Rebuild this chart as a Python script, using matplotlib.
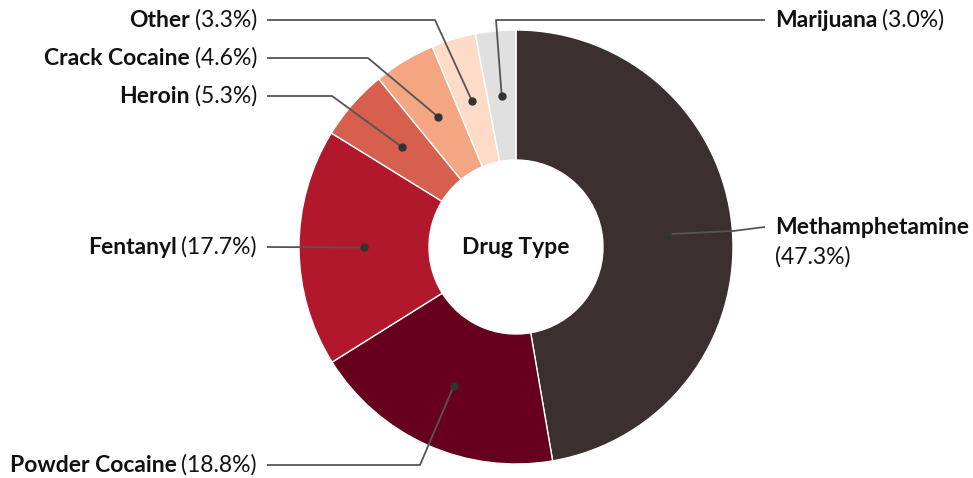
import numpy as np
import matplotlib
matplotlib.use("Agg")
import matplotlib.pyplot as plt

categories = ["Methamphetamine", "Powder Cocaine", "Fentanyl", "Heroin",
              "Crack Cocaine", "Other", "Marijuana"]
shares = [47.3, 18.8, 17.7, 5.3, 4.6, 3.3, 3.0]
colors = ["#3c2f2f", "#67001f", "#b2182b", "#d6604d", "#f4a582", "#fddbc7", "#e0e0e0"]
center_title = "Drug Type"

W, H = 973, 478
CX, CY = 516, 247          # image coords
R_OUT, R_IN = 217, 87
FS = 16.5
FONT = ["Lato", "DejaVu Sans"]

fig = plt.figure(figsize=(W / 100, H / 100), dpi=100)
ax = fig.add_axes([0, 0, 1, 1])

def Y(y):
    return H - y

wedges, _ = ax.pie(shares, colors=colors, startangle=90, counterclock=False,
                   center=(CX, Y(CY)), radius=R_OUT,
                   wedgeprops=dict(width=R_OUT - R_IN, edgecolor="white", linewidth=1))
ax.set_xlim(0, W)
ax.set_ylim(0, H)
ax.set_aspect("equal")
ax.axis("off")

ax.text(CX, Y(CY), center_title, ha="center", va="center", fontsize=FS,
        fontweight="bold", family=FONT, color="#111111")

# label layout: (side, label y, elbow points)
layout = {
    "Methamphetamine": ("right", 228, [(733, 231)]),
    "Powder Cocaine": ("left", 465, [(420, 465)]),
    "Fentanyl": ("left", 247, []),
    "Heroin": ("left", 96, [(332, 96)]),
    "Crack Cocaine": ("left", 58, [(368, 58)]),
    "Other": ("left", 20, [(435, 20)]),
    "Marijuana": ("right", 20, [(496, 20)]),
}

r_mid = (R_OUT + R_IN) / 2
fig.canvas.draw()
renderer = fig.canvas.get_renderer()

for w, name, val in zip(wedges, categories, shares):
    ang = np.deg2rad((w.theta1 + w.theta2) / 2)
    dx, dy = CX + r_mid * np.cos(ang), Y(CY) + r_mid * np.sin(ang)
    side, ly, elbows = layout[name]
    if side == "left":
        end = (267, Y(ly))
    elif name == "Methamphetamine":
        end = (765, Y(227))
    else:
        end = (765, Y(ly))
    pts = [(dx, dy)] + [(ex, Y(ey)) for ex, ey in elbows] + [end]
    xs, ys = zip(*pts)
    ax.plot(xs, ys, color="#555555", lw=1.3, solid_capstyle="butt", zorder=3)
    ax.plot([dx], [dy], "o", color="#333333", ms=5, zorder=4)

    pct = f"({val:.1f}%)"
    if side == "left":
        t2 = ax.text(257, Y(ly), pct, ha="right", va="center", fontsize=FS,
                     family=FONT, color="#111111")
        bb = t2.get_window_extent(renderer)
        ax.text(bb.x0 - 5, Y(ly), name, ha="right", va="center", fontsize=FS,
                fontweight="bold", family=FONT, color="#111111")
    else:
        if name == "Methamphetamine":
            ax.text(775, Y(227), name, ha="left", va="center", fontsize=FS,
                    fontweight="bold", family=FONT, color="#111111")
            ax.text(775, Y(257), pct, ha="left", va="center", fontsize=FS,
                    family=FONT, color="#111111")
        else:
            t1 = ax.text(775, Y(ly), name, ha="left", va="center", fontsize=FS,
                         fontweight="bold", family=FONT, color="#111111")
            bb = t1.get_window_extent(renderer)
            ax.text(bb.x1 + 5, Y(ly), pct, ha="left", va="center", fontsize=FS,
                    family=FONT, color="#111111")

fig.savefig("out.png", dpi=100)
